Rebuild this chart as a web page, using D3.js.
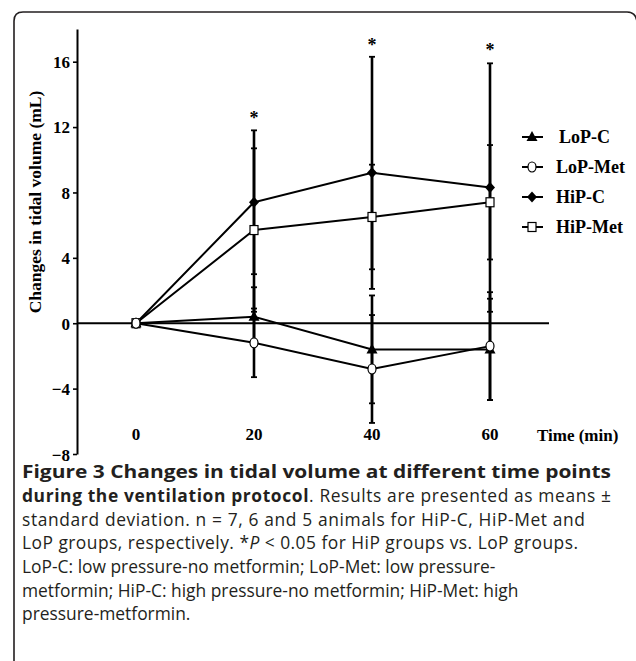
<!DOCTYPE html>
<html>
<head>
<meta charset="utf-8">
<script src="https://cdn.jsdelivr.net/npm/d3@7"></script>
<style>
  body { margin: 0; background: #fff; }
  svg { display: block; }
  .serif { font-family: "Liberation Serif", "Times New Roman", serif; font-weight: bold; }
  .cap { font-family: "Open Sans", sans-serif; fill: #231f20; }
</style>
</head>
<body>
<div id="chart"></div>
<script>
// data
var times = [0, 20, 40, 60];
var lopC = [0, 0.4, -1.6, -1.6];
var lopCsd = [0, 1.8, 3.3, 3.1];
var lopMet = [0, -1.2, -2.8, -1.4];
var lopMetSd = [0, 2.1, 3.3, 3.3];
var hipC = [0, 7.4, 9.2, 8.3];
var hipCsd = [0, 4.4, 7.1, 7.6];
var hipMet = [0, 5.7, 6.5, 7.4];
var hipMetSd = [0, 5.0, 3.2, 3.5];
var seriesNames = ["LoP-C", "LoP-Met", "HiP-C", "HiP-Met"];
var yTicks = [-8, -4, 0, 4, 8, 12, 16];
var xTicks = [0, 20, 40, 60];
var starTimes = [20, 40, 60];
var starTops = [11.8, 16.3, 16.0];

var W = 636, H = 661;
var svg = d3.select("#chart").append("svg")
    .attr("width", W)
    .attr("height", H);

// frame with rounded top corners
svg.append("path")
    .attr("d", "M14,665 L14,21 Q14,12 23,12 L627,12 Q636,12 637,22 L637,665")
    .attr("fill", "none")
    .attr("stroke", "#231f20")
    .attr("stroke-width", 1.6);

var x = d3.scaleLinear().domain([-10, 70]).range([77, 549]);
var y = d3.scaleLinear().domain([-8, 18]).range([454, 29]);

// y axis
var yAxis = svg.append("g")
    .attr("transform", "translate(" + x(-10) + ",0)")
    .call(d3.axisLeft(y).tickValues(yTicks).tickSize(4).tickPadding(3).tickSizeOuter(0));
yAxis.select(".domain").attr("stroke", "#000").attr("stroke-width", 2);
yAxis.selectAll(".tick line").attr("stroke", "#000").attr("stroke-width", 1.6);
yAxis.selectAll(".tick text")
    .attr("class", "serif")
    .attr("font-size", 17)
    .attr("fill", "#000")
    .attr("dy", function(d) { return d === -8 ? "0.4em" : "0.34em"; });

// zero line
svg.append("line")
    .attr("x1", x(-10)).attr("x2", x(70))
    .attr("y1", y(0)).attr("y2", y(0))
    .attr("stroke", "#000").attr("stroke-width", 2);

// x tick labels sit inside plot
svg.selectAll(".xlab").data(xTicks).enter().append("text")
    .attr("class", "serif")
    .attr("x", function(d) { return x(d); })
    .attr("y", 440)
    .attr("text-anchor", "middle")
    .attr("font-size", 17)
    .text(function(d) { return d; });

svg.append("text")
    .attr("class", "serif")
    .attr("x", 537).attr("y", 441)
    .attr("font-size", 17)
    .text("Time (min)");

svg.append("text")
    .attr("class", "serif")
    .attr("transform", "translate(41,202) rotate(-90)")
    .attr("text-anchor", "middle")
    .attr("font-size", 17.5)
    .text("Changes in tidal volume (mL)");

var series = [
    { name: seriesNames[0], vals: lopC, sd: lopCsd, shape: "tri" },
    { name: seriesNames[2], vals: hipC, sd: hipCsd, shape: "dia" },
    { name: seriesNames[3], vals: hipMet, sd: hipMetSd, shape: "sq" },
    { name: seriesNames[1], vals: lopMet, sd: lopMetSd, shape: "circ" }
];

// error bars
series.forEach(function(s) {
    var g = svg.append("g");
    times.forEach(function(t, i) {
        if (!s.sd[i]) return;
        var top = y(s.vals[i] + s.sd[i]), bot = y(s.vals[i] - s.sd[i]);
        g.append("line").attr("x1", x(t)).attr("x2", x(t)).attr("y1", top).attr("y2", bot)
            .attr("stroke", "#000").attr("stroke-width", 2.6);
        [top, bot].forEach(function(cy) {
            g.append("line").attr("x1", x(t) - 3).attr("x2", x(t) + 3).attr("y1", cy).attr("y2", cy)
                .attr("stroke", "#000").attr("stroke-width", 1.8);
        });
    });
});

var line = d3.line()
    .x(function(d, i) { return x(times[i]); })
    .y(function(d) { return y(d); });

series.forEach(function(s) {
    svg.append("path")
        .attr("d", line(s.vals))
        .attr("fill", "none")
        .attr("stroke", "#000")
        .attr("stroke-width", 2);
});

function marker(g, shape, cx, cy) {
    if (shape === "tri") {
        g.append("path").attr("d", "M" + cx + "," + (cy - 6) + "L" + (cx + 5.5) + "," + (cy + 4) + "L" + (cx - 5.5) + "," + (cy + 4) + "Z")
            .attr("fill", "#000");
    } else if (shape === "dia") {
        g.append("path").attr("d", "M" + cx + "," + (cy - 5.5) + "L" + (cx + 5) + "," + cy + "L" + cx + "," + (cy + 5.5) + "L" + (cx - 5) + "," + cy + "Z")
            .attr("fill", "#000");
    } else if (shape === "sq") {
        g.append("rect").attr("x", cx - 4).attr("y", cy - 4.5).attr("width", 8).attr("height", 9)
            .attr("fill", "#fff").attr("stroke", "#000").attr("stroke-width", 1.2);
    } else {
        g.append("ellipse").attr("cx", cx).attr("cy", cy).attr("rx", 4).attr("ry", 5)
            .attr("fill", "#fff").attr("stroke", "#000").attr("stroke-width", 1.2);
    }
}

series.forEach(function(s) {
    var g = svg.append("g");
    s.vals.forEach(function(v, i) { marker(g, s.shape, x(times[i]), y(v)); });
});

// significance stars
svg.selectAll(".star").data(starTimes).enter().append("text")
    .attr("class", "serif")
    .attr("x", function(d) { return x(d); })
    .attr("y", function(d, i) { return y(starTops[i]) - 6; })
    .attr("text-anchor", "middle")
    .attr("font-size", 18)
    .text("*");

// legend
var legShapes = { "LoP-C": "tri", "LoP-Met": "circ", "HiP-C": "dia", "HiP-Met": "sq" };
seriesNames.forEach(function(n, i) {
    var ly = 137 + i * 30;
    var g = svg.append("g");
    g.append("line").attr("x1", 522).attr("x2", 543).attr("y1", ly).attr("y2", ly)
        .attr("stroke", "#000").attr("stroke-width", 2);
    marker(g, legShapes[n], 532, ly);
    g.append("text").attr("class", "serif")
        .attr("x", i === 0 ? 559 : 556).attr("y", ly + 6)
        .attr("font-size", 18)
        .text(n);
});

// caption
var capSize = 17.4;
function capLine(yy, len) {
    var t = svg.append("text").attr("class", "cap").attr("x", 22).attr("y", yy)
        .attr("font-size", capSize);
    if (len) t.attr("textLength", len).attr("lengthAdjust", "spacing");
    return t;
}
capLine(478).attr("font-weight", "bold")
    .attr("textLength", 589).attr("lengthAdjust", "spacingAndGlyphs")
    .text("Figure 3 Changes in tidal volume at different time points");
var t2 = capLine(502, 589);
t2.append("tspan").attr("font-weight", "bold").text("during the ventilation protocol");
t2.append("tspan").text(". Results are presented as means \u00b1");
capLine(526, 563).text("standard deviation. n = 7, 6 and 5 animals for HiP-C, HiP-Met and");
var t4 = capLine(549, 556);
t4.append("tspan").text("LoP groups, respectively. *");
t4.append("tspan").attr("font-style", "italic").text("P");
t4.append("tspan").text(" < 0.05 for HiP groups vs. LoP groups.");
capLine(573).text("LoP-C: low pressure-no metformin; LoP-Met: low pressure-");
capLine(597).text("metformin; HiP-C: high pressure-no metformin; HiP-Met: high");
capLine(620).text("pressure-metformin.");
</script>
</body>
</html>
